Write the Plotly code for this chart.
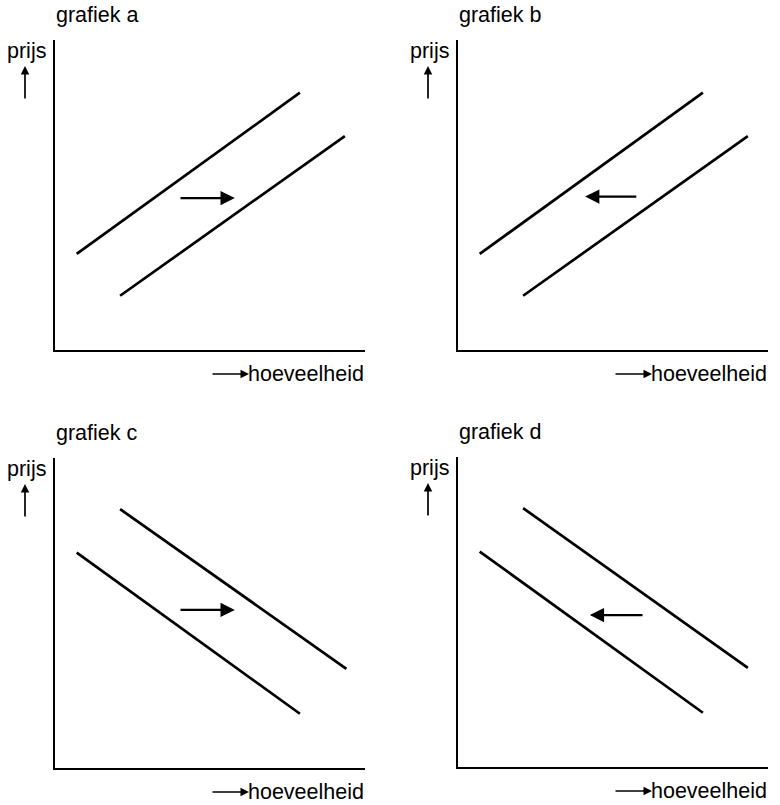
import plotly.graph_objects as go

W, H = 780, 805

panel_titles = ["grafiek a", "grafiek b", "grafiek c", "grafiek d"]
y_label = "prijs"
x_label = "hoeveelheid"

# line endpoints per panel (axis units 0-10)
line1_x = [[0.7, 7.9], [0.7, 7.9], [0.7, 7.9], [0.7, 7.9]]
line1_y = [[3.1, 8.3], [3.1, 8.3], [6.95, 1.75], [6.95, 1.75]]
line2_x = [[2.1, 9.35], [2.1, 9.35], [2.1, 9.4], [2.1, 9.35]]
line2_y = [[1.75, 6.9], [1.75, 6.9], [8.35, 3.2], [8.35, 3.2]]

# shift arrows: tail x, head x, y
arrow_tail_x = [4.0, 5.8, 4.0, 6.0]
arrow_head_x = [5.8, 4.1, 5.8, 4.25]
arrow_y = [4.9, 4.95, 5.1, 4.9]

# layout in pixels
x_dom_px = [(55, 365), (458, 768), (55, 365), (458, 768)]
y_dom_px = [(40, 350), (40, 350), (458, 768), (457, 767)]

fig = go.Figure()
layout = dict(width=W, height=H, margin=dict(l=0, r=0, t=0, b=0),
              plot_bgcolor="white", paper_bgcolor="white", showlegend=False,
              font=dict(family="Liberation Sans, Arial, sans-serif", size=21, color="black"))
annotations = []

def px(x):
    return x / W

def py(y):
    return 1 - y / H

FS = 21.5

for i in range(4):
    n = "" if i == 0 else str(i + 1)
    xa, ya = "x" + n, "y" + n
    x0, x1 = x_dom_px[i]
    y0, y1 = y_dom_px[i]
    layout["xaxis" + n] = dict(domain=[px(x0), px(x1)], range=[0, 10], showline=True,
                               linecolor="black", linewidth=1.6, showgrid=False,
                               zeroline=False, showticklabels=False, ticks="",
                               anchor=ya, fixedrange=True)
    layout["yaxis" + n] = dict(domain=[py(y1), py(y0)], range=[0, 10], showline=True,
                               linecolor="black", linewidth=1.6, showgrid=False,
                               zeroline=False, showticklabels=False, ticks="",
                               anchor=xa, fixedrange=True)
    for lx, ly in ((line1_x[i], line1_y[i]), (line2_x[i], line2_y[i])):
        fig.add_trace(go.Scatter(x=lx, y=ly, mode="lines", xaxis=xa, yaxis=ya,
                                 line=dict(color="black", width=2.7), hoverinfo="skip"))
    # shift arrow
    annotations.append(dict(x=arrow_head_x[i], y=arrow_y[i], ax=arrow_tail_x[i], ay=arrow_y[i],
                            xref=xa, yref=ya, axref=xa, ayref=ya, text="", showarrow=True,
                            arrowhead=2, arrowsize=1.3, arrowwidth=2.2, arrowcolor="black"))
    # title
    annotations.append(dict(x=px(x0 - 1), y=py(y0 - 25), xref="paper", yref="paper",
                            text=panel_titles[i], showarrow=False, xanchor="left",
                            yanchor="middle", font=dict(size=FS)))
    # prijs
    annotations.append(dict(x=px(x0 - 50), y=py(y0 + 11), xref="paper", yref="paper",
                            text=y_label, showarrow=False, xanchor="left",
                            yanchor="middle", font=dict(size=FS)))
    # up arrow
    annotations.append(dict(x=px(x0 - 30), y=py(y0 + 26), xref="paper", yref="paper",
                            ax=0, ay=34, axref="pixel", ayref="pixel", text="", showarrow=True,
                            arrowhead=2, arrowsize=1, arrowwidth=1.7, arrowcolor="black"))
    # hoeveelheid
    annotations.append(dict(x=px(x1 + 1), y=py(y1 + 24), xref="paper", yref="paper",
                            text=x_label, showarrow=False, xanchor="right",
                            yanchor="middle", font=dict(size=FS)))
    annotations.append(dict(x=px(x1 - 116), y=py(y1 + 24), xref="paper", yref="paper",
                            ax=-38, ay=0, axref="pixel", ayref="pixel", text="", showarrow=True,
                            arrowhead=2, arrowsize=1, arrowwidth=1.7, arrowcolor="black"))

layout["annotations"] = annotations
fig.update_layout(**layout)
fig.write_html("out.html", config={"displayModeBar": False, "staticPlot": True},
               post_script="document.body.style.margin='0';document.body.style.overflow='hidden';")
